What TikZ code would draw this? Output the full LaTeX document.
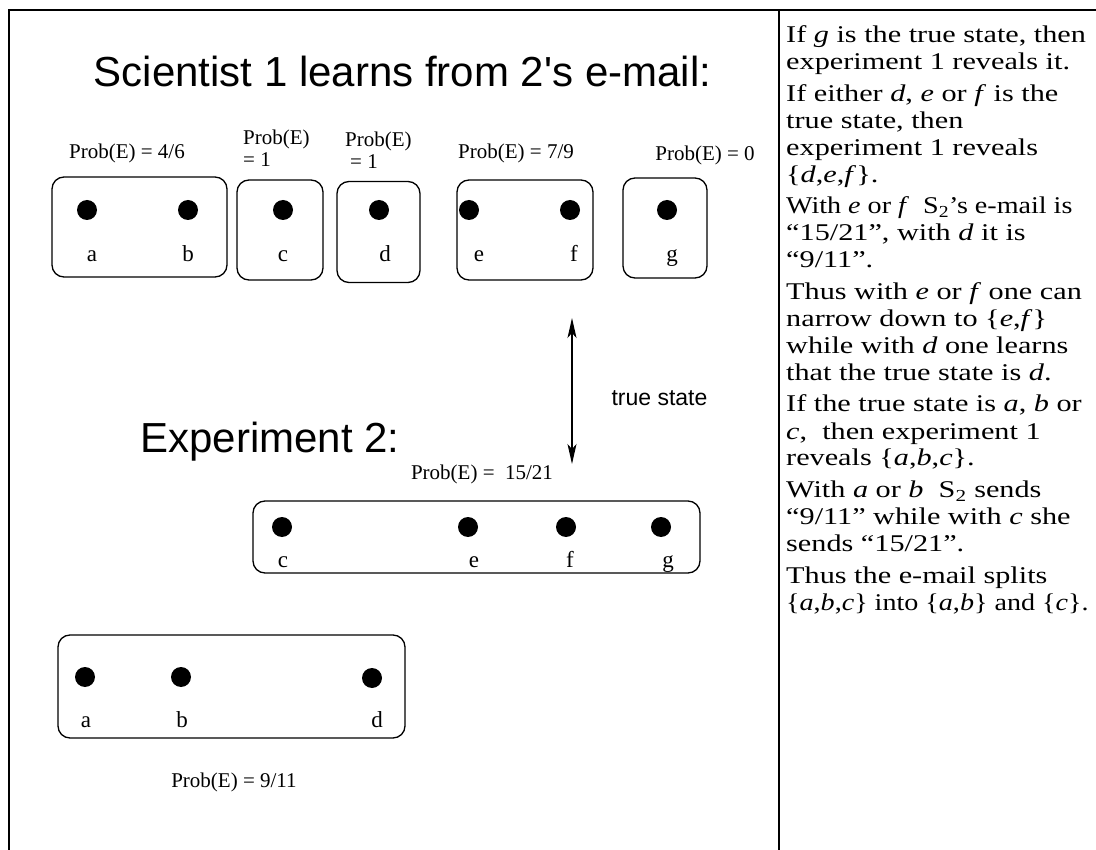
\documentclass[tikz,border=0pt]{standalone}
\usepackage{fontspec}
\usepackage{graphicx}
\setmainfont{Liberation Serif}
\newfontfamily\sansf{Liberation Sans}
\newcommand\rl[1]{\scalebox{1.26}[1]{#1}}
\newcommand\rlnarrow[1]{\scalebox{1.17}[1]{#1}}
\usetikzlibrary{arrows.meta}
\begin{document}
\begin{tikzpicture}[x=1pt,y=-1pt,
  setbox/.style={draw,line width=1.3pt,rounded corners=12pt,inner sep=0pt},
  dot/.style={circle,fill=black,inner sep=0pt,minimum size=20pt},
  lab/.style={font=\fontsize{23}{23}\selectfont,anchor=base,inner sep=0pt},
  prob/.style={font=\fontsize{21}{21}\selectfont,anchor=base,inner sep=0pt},
  probw/.style={prob,anchor=base west},
  ttl/.style={font=\sansf\fontsize{42}{42}\selectfont,anchor=base,inner sep=0pt},
  rline/.style={font=\fontsize{24}{27}\selectfont,anchor=base west,inner sep=0pt},
  framel/.style={line width=2.6pt},
  dbl/.style={line width=1.4pt,{Stealth[length=20pt,width=9pt,inset=5pt]}-{Stealth[length=20pt,width=9pt,inset=5pt]}}]
\useasboundingbox (0,0) rectangle (1096,850);
% frame
\coordinate (fbl) at (9,850);
\coordinate (ftl) at (9,10);
\coordinate (ftr) at (1096,10);
\coordinate (dtop) at (779,10);
\coordinate (dbot) at (779,850);
\draw[framel,line join=miter] (fbl) -- (ftl) -- (ftr);
\draw[framel] (dtop) -- (dbot);
% titles
\node[ttl] (t1) at (402.5,87) {Scientist 1 learns from 2's e-mail:};
\node[ttl] (t2) at (270,453) {Experiment 2:};
\node[font=\sansf\fontsize{23}{23}\selectfont,anchor=base,inner sep=0pt] (ts) at (659.5,406) {true state};
% top row boxes
\node[setbox,minimum width=175pt,minimum height=100pt] (Bab) at (139.5,227) {};
\node[setbox,minimum width=86pt,minimum height=100pt] (Bc) at (280,230) {};
\node[setbox,minimum width=83pt,minimum height=101pt] (Bd) at (378.5,232) {};
\node[setbox,minimum width=136pt,minimum height=100pt] (Bef) at (525,230) {};
\node[setbox,minimum width=84pt,minimum height=100pt] (Bg) at (665,228) {};
% top dots
\node[dot] (da) at (87,210) {};
\node[dot] (db) at (188,210) {};
\node[dot] (dc) at (283,210) {};
\node[dot] (dd) at (379,210) {};
\node[dot] (de) at (469,210) {};
\node[dot] (df) at (570,210) {};
\node[dot] (dg) at (667,210) {};
% top letters
\node[lab] (la) at (92,262) {a};
\node[lab] (lb) at (188,262) {b};
\node[lab] (lc) at (283,262) {c};
\node[lab] (ld) at (385,262) {d};
\node[lab] (le) at (479,262) {e};
\node[lab] (lf) at (574,262) {f};
\node[lab] (lg) at (672,262) {g};
% top probabilities
\node[prob] (p1) at (127,159) {Prob(E) = 4/6};
\node[probw] (p2a) at (243,145) {Prob(E)};
\node[probw] (p2b) at (243,167) {= 1};
\node[probw] (p3a) at (345,147) {Prob(E)};
\node[probw] (p3b) at (350,169) {= 1};
\node[prob] (p4) at (516,159) {Prob(E) = 7/9};
\node[prob] (p5) at (705,161) {Prob(E) = 0};
% arrow
\coordinate (atop) at (572,318);
\coordinate (abot) at (572,464);
\draw[dbl] (atop) -- (abot);
% experiment 2 boxes
\node[prob] (p6) at (482,479) {Prob(E) =\ \ 15/21};
\node[setbox,minimum width=447pt,minimum height=72pt] (Bcefg) at (476.5,537) {};
\node[dot] (d2c) at (282,527) {};
\node[dot] (d2e) at (468,527) {};
\node[dot] (d2f) at (566,527) {};
\node[dot] (d2g) at (661,527) {};
\node[lab] (l2c) at (283,567) {c};
\node[lab] (l2e) at (474,567) {e};
\node[lab] (l2f) at (570,567) {f};
\node[lab] (l2g) at (668,567) {g};
\node[setbox,minimum width=347pt,minimum height=103pt] (Babd) at (231.5,686.5) {};
\node[dot] (d3a) at (85,677) {};
\node[dot] (d3b) at (181,677) {};
\node[dot] (d3d) at (372,678) {};
\node[lab] (l3a) at (86,727) {a};
\node[lab] (l3b) at (182,727) {b};
\node[lab] (l3d) at (377,727) {d};
\node[prob] (p7) at (234,787) {Prob(E) = 9/11};
% right panel text
\node[rline] (r1) at (786,43) {\rl{If \textit{g} is the true state, then}};
\node[rline] (r2) at (786,70) {\rl{experiment 1 reveals it.}};
\node[rline] (r3) at (786,101.5) {\rl{If either \textit{d}, \textit{e} or \textit{f} is the}};
\node[rline] (r4) at (786,128.5) {\rl{true state, then}};
\node[rline] (r5) at (786,155.5) {\rl{experiment 1 reveals}};
\node[rline] (r6) at (786,182.5) {\rl{\{\textit{d},\textit{e},\textit{f}\}.}};
\node[rline] (r7) at (786,214) {\rlnarrow{With \textit{e} or \textit{f}\ \ S\textsubscript{2}’s e-mail is}};
\node[rline] (r8) at (786,241) {\rl{“15/21”, with \textit{d} it is}};
\node[rline] (r9) at (786,268) {\rl{“9/11”.}};
\node[rline] (r10) at (786,299.5) {\rl{Thus with \textit{e} or \textit{f} one can}};
\node[rline] (r11) at (786,326.5) {\rl{narrow down to \{\textit{e},\textit{f}\}}};
\node[rline] (r12) at (786,353.5) {\rl{while with \textit{d} one learns}};
\node[rline] (r13) at (786,380.5) {\rl{that the true state is \textit{d}.}};
\node[rline] (r14) at (786,412) {\rl{If the true state is \textit{a}, \textit{b} or}};
\node[rline] (r15) at (786,439) {\rl{\textit{c},\ \ then experiment 1}};
\node[rline] (r16) at (786,466) {\rl{reveals \{\textit{a},\textit{b},\textit{c}\}.}};
\node[rline] (r17) at (786,497.5) {\rl{With \textit{a} or \textit{b}\ \ S\textsubscript{2} sends}};
\node[rline] (r18) at (786,524.5) {\rl{“9/11” while with \textit{c} she}};
\node[rline] (r19) at (786,551.5) {\rl{sends “15/21”.}};
\node[rline] (r20) at (786,583) {\rl{Thus the e-mail splits}};
\node[rline] (r21) at (786,610) {\rlnarrow{\{\textit{a},\textit{b},\textit{c}\} into \{\textit{a},\textit{b}\} and \{\textit{c}\}.}};
\end{tikzpicture}
\end{document}
